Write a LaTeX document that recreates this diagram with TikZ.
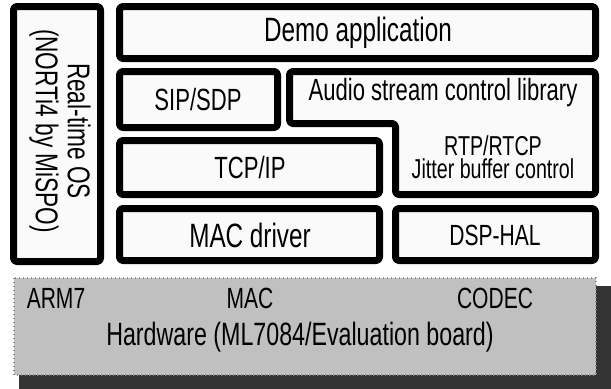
\documentclass[tikz,border=0pt]{standalone}
\usepackage{fontspec}
\setmainfont{Liberation Sans}[FakeStretch=0.72]
\definecolor{boxfill}{HTML}{FAFAFA}
\definecolor{hwfill}{HTML}{C0C0C0}
\definecolor{hwshadow}{HTML}{333333}
\definecolor{tick}{HTML}{8A8A8A}
\newcommand\fs[2]{\fontsize{#1}{#2}\selectfont}
\tikzset{
  layerbox/.style={draw=black, fill=boxfill, line width=5.25pt, rounded corners=2.5pt, line join=round},
  lbl/.style={inner sep=0pt, align=center, text=black},
}
\begin{document}
\begin{tikzpicture}[x=0.75pt, y=-0.75pt]
\useasboundingbox (0,0) rectangle (611,389);
% boxes
\draw[layerbox] (13.5,6.5) rectangle (100.5,261.5);
\draw[layerbox] (119.5,6.5) rectangle (595.5,58.5);
\draw[layerbox] (119.5,71.5) rectangle (277.5,127.5);
\draw[layerbox] (289.5,71.5) -- (595.5,71.5) -- (595.5,194.5) -- (395.5,194.5) -- (395.5,123.5) -- (289.5,123.5) -- cycle;
\draw[layerbox] (119.5,140.5) rectangle (379.5,194.5);
\draw[layerbox] (119.5,208.5) rectangle (379.5,260.5);
\draw[layerbox] (395.5,208.5) rectangle (595.5,260.5);
% hardware
\fill[hwshadow] (19,286) rectangle (611,389);
\fill[hwfill] (14,278) rectangle (596,375);
\draw[tick, line width=2.2pt, dash pattern=on 0.6pt off 2.4pt] (14,278) rectangle (596,375);
% labels
\node[lbl, rotate=-90, font=\fs{23.6pt}{24pt}] (rtos) at (60,131) {Real-time OS\\(NORTi4 by MiSPO)};
\node[lbl, font=\fs{25.3pt}{28pt}] (demo) at (358,33) {Demo application};
\node[lbl, font=\fs{23pt}{26pt}] (sip) at (198,100) {SIP/SDP};
\node[lbl, font=\fs{23pt}{26pt}] (audio) at (443,93) {Audio stream control library};
\node[lbl, font=\fs{20.5pt}{17pt}] (rtp) at (493,157) {RTP/RTCP\\Jitter buffer control};
\node[lbl, font=\fs{23pt}{26pt}] (tcp) at (250,168) {TCP/IP};
\node[lbl, font=\fs{25.3pt}{28pt}] (macdrv) at (250,235) {MAC driver};
\node[lbl, font=\fs{21.9pt}{24pt}] (dsp) at (495,235) {DSP-HAL};
\node[lbl, font=\fs{21.9pt}{24pt}] (arm) at (56,298) {ARM7};
\node[lbl, font=\fs{21.9pt}{24pt}] (mac) at (250,298) {MAC};
\node[lbl, font=\fs{21.9pt}{24pt}] (codec) at (495,298) {CODEC};
\node[lbl, font=\fs{24.2pt}{27pt}] (hw) at (300,337) {Hardware (ML7084/Evaluation board)};
\end{tikzpicture}
\end{document}
